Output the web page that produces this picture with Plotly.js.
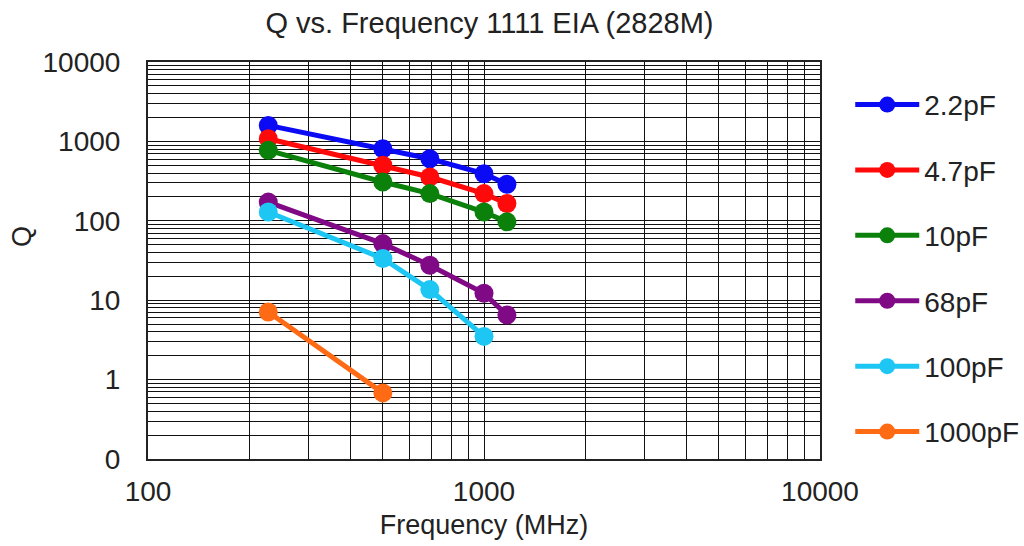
<!DOCTYPE html>
<html>
<head>
<meta charset="utf-8">
<script src="https://cdn.plot.ly/plotly-3.0.1.min.js"></script>
<style>html,body{margin:0;padding:0;background:#fff;}#chart{width:1024px;height:546px;}</style>
</head>
<body>
<div id="chart"></div>
<script>
// Data (frequency in MHz, Q)
const seriesNames = ['2.2pF', '4.7pF', '10pF', '68pF', '100pF', '1000pF'];
const seriesColors = ['#0a0af5', '#ff0a0a', '#0b800b', '#800a85', '#1ec6f4', '#ff6a14'];
const freq5 = [228, 500, 690, 1000, 1170];
const freq4 = [228, 500, 690, 1000];
const freq2 = [228, 500];
const q22pF = [1590, 810, 605, 392, 288];
const q47pF = [1080, 500, 356, 220, 165];
const q10pF = [771, 308, 220, 129, 97];
const q68pF = [172, 51.6, 27.5, 12.2, 6.5];
const q100pF = [129, 33.5, 13.6, 3.5];
const q1000pF = [7.1, 0.68];

const xTickLabels = ['100', '1000', '10000'];
const yTickLabels = ['0', '1', '10', '100', '1000', '10000'];

const xs = [freq5, freq5, freq5, freq5, freq4, freq2];
const ys = [q22pF, q47pF, q10pF, q68pF, q100pF, q1000pF];

const traces = seriesNames.map((name, i) => ({
  type: 'scatter',
  mode: 'lines+markers',
  name: name,
  x: xs[i],
  y: ys[i],
  legendgroup: 'g' + i,
  line: {color: seriesColors[i], width: 5},
  marker: {color: seriesColors[i], size: 19},
  cliponaxis: false
}));

// log grid positions
function logGrid(minExp, maxExp, labels) {
  const vals = [], text = [];
  let li = 0;
  for (let e = minExp; e <= maxExp; e++) {
    for (let m = 1; m <= 9; m++) {
      if (e === maxExp && m > 1) break;
      vals.push(m * Math.pow(10, e));
      text.push(m === 1 ? labels[li++] : '');
    }
  }
  return {vals, text};
}
const xg = logGrid(2, 4, xTickLabels);
const yg = logGrid(-1, 4, yTickLabels);

const fam = 'Liberation Sans, Arial, sans-serif';
const txt = '#222';

const layout = {
  width: 1024, height: 546,
  margin: {l: 148, r: 204, t: 62, b: 87, autoexpand: false},
  paper_bgcolor: '#fff', plot_bgcolor: '#fff',
  font: {family: fam, size: 28, color: txt},
  showlegend: true,
  title: {text: 'Q vs. Frequency 1111 EIA (2828M)', font: {family: fam, size: 29, color: txt}, x: 0.478, xanchor: 'center', y: 0.958, yanchor: 'middle'},
  xaxis: {
    type: 'log', range: [2, 4],
    tickmode: 'array', tickvals: xg.vals, ticktext: xg.text,
    tickfont: {family: fam, size: 28, color: txt},
    showgrid: true, gridcolor: '#111', gridwidth: 1,
    showline: true, linecolor: '#222', linewidth: 2, mirror: true,
    ticks: '', ticklabelstandoff: 6, zeroline: false,
    title: {text: 'Frequency (MHz)', font: {family: fam, size: 27, color: txt}, standoff: 10}
  },
  yaxis: {
    type: 'log', range: [-1, 4],
    tickmode: 'array', tickvals: yg.vals, ticktext: yg.text,
    tickfont: {family: fam, size: 28, color: txt},
    showgrid: true, gridcolor: '#111', gridwidth: 1,
    showline: true, linecolor: '#222', linewidth: 2, mirror: true,
    ticks: '', ticklabelstandoff: 20, zeroline: false
  },
  annotations: [{
    text: 'Q', xref: 'paper', yref: 'paper', x: -0.1875, y: 0.559,
    xanchor: 'center', yanchor: 'middle', showarrow: false, textangle: -90,
    font: {family: fam, size: 27, color: txt}
  }],
  legend: {
    x: 1.045, xanchor: 'left', y: 0.955, yanchor: 'top',
    font: {family: fam, size: 28, color: txt},
    tracegroupgap: 26, bgcolor: 'rgba(0,0,0,0)', itemwidth: 64
  }
};

Plotly.newPlot('chart', traces, layout, {displayModeBar: false, staticPlot: true});
</script>
</body>
</html>
